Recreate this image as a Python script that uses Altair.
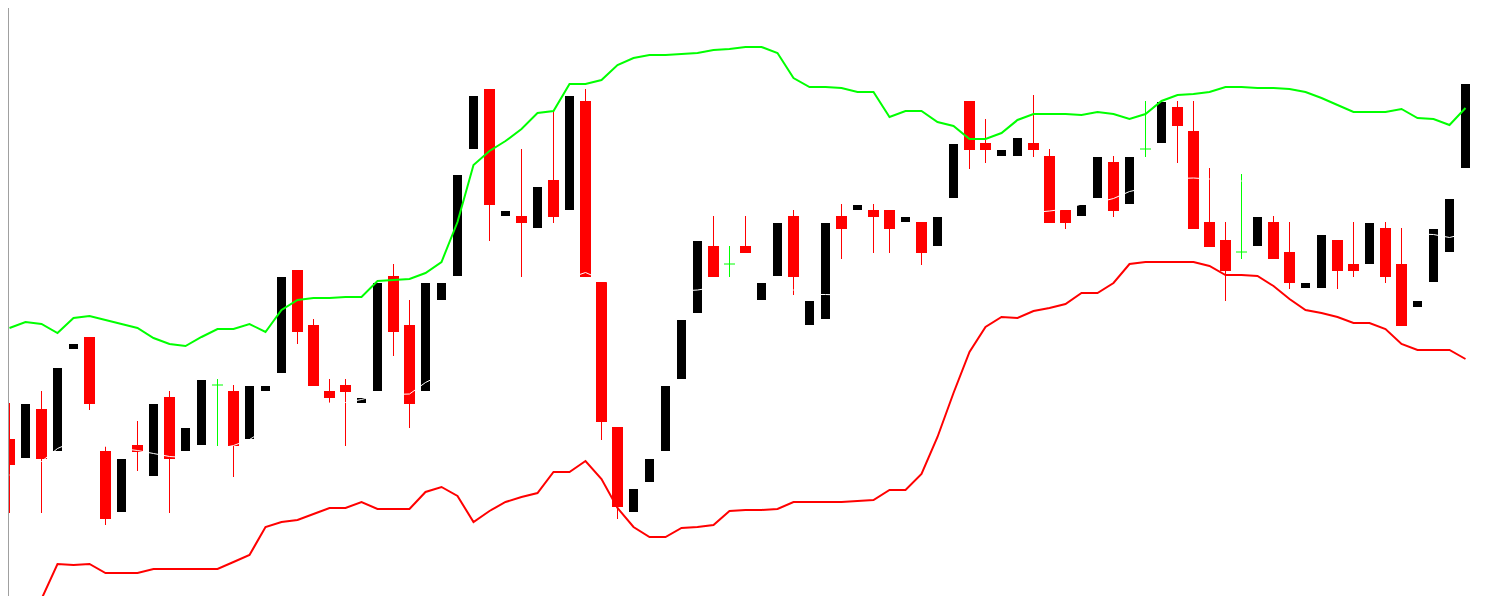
import altair as alt
import pandas as pd

# Candle values (price units; higher = up)
bar_open = [165, 146, 195, 153, 255, 267, 153, 92, 159, 128,
            207, 153, 159, 219, 213, 165, 213, 231, 334, 279,
            213, 219, 201, 213, 328, 279, 213, 304, 328, 455,
            515, 388, 388, 376, 424, 394, 503, 322, 177, 92,
            122, 153, 225, 291, 358, 340, 358, 304, 328, 388,
            279, 285, 388, 394, 394, 394, 382, 382, 358, 406,
            503, 461, 448, 448, 461, 448, 394, 388, 406, 442,
            400, 455, 461, 497, 473, 382, 364, 352, 358, 382,
            352, 316, 316, 364, 340, 340, 376, 340, 297, 322,
            352, 436]
bar_close = [139, 200, 145, 236, 260, 200, 85, 145, 152, 200,
             145, 176, 224, 219, 158, 218, 218, 327, 272, 218,
             206, 212, 206, 321, 272, 200, 321, 321, 429, 508,
             399, 393, 381, 417, 387, 508, 327, 182, 97, 115,
             145, 218, 284, 363, 327, 340, 351, 321, 381, 327,
             303, 381, 375, 399, 387, 375, 387, 351, 387, 460,
             454, 454, 454, 466, 454, 381, 381, 399, 447, 393,
             447, 455, 502, 478, 375, 357, 333, 352, 387, 345,
             321, 321, 369, 333, 333, 381, 327, 278, 303, 375,
             405, 520]
bar_high = [201, 200, 213, 236, 260, 267, 158, 145, 183, 200,
            213, 176, 224, 225, 219, 218, 218, 327, 334, 285,
            225, 225, 206, 321, 340, 304, 321, 321, 429, 508,
            515, 393, 455, 417, 493, 508, 515, 322, 177, 115,
            145, 218, 284, 363, 388, 358, 388, 321, 381, 394,
            303, 381, 400, 399, 400, 394, 387, 382, 387, 460,
            503, 485, 454, 466, 509, 455, 394, 399, 447, 448,
            447, 503, 502, 503, 503, 436, 382, 430, 387, 388,
            382, 321, 369, 364, 382, 381, 382, 376, 303, 375,
            405, 520]
bar_low = [91, 146, 91, 153, 255, 194, 79, 92, 133, 128,
           91, 153, 159, 158, 127, 165, 213, 231, 260, 218,
           201, 158, 201, 213, 248, 176, 213, 304, 328, 455,
           363, 388, 327, 376, 381, 394, 327, 164, 85, 92,
           122, 153, 225, 291, 327, 327, 351, 304, 328, 309,
           279, 285, 345, 394, 351, 351, 382, 339, 358, 406,
           435, 441, 448, 448, 447, 381, 375, 388, 406, 387,
           400, 447, 461, 441, 375, 357, 303, 345, 358, 345,
           315, 316, 316, 315, 327, 340, 321, 278, 297, 322,
           352, 436]

# Bollinger bands (upper / lower)
band_upper = [276, 282, 280, 271, 286, 288, 284, 280, 276, 266,
              260, 258, 267, 275, 275, 280, 272, 294, 304, 306,
              306, 307, 307, 323, 324, 325, 331, 342, 382, 439,
              453, 463, 475, 491, 493, 520, 520, 524, 539, 546,
              549, 549, 550, 551, 554, 555, 557, 557, 551, 526,
              517, 517, 516, 512, 512, 487, 493, 493, 482, 478,
              465, 465, 471, 484, 490, 490, 490, 489, 492, 490,
              485, 490, 503, 509, 510, 512, 517, 517, 516, 516,
              515, 512, 506, 499, 492, 492, 492, 495, 486, 485,
              479, 496]
band_lower = [-18, -8, 5, 40, 39, 40, 31, 31, 31, 35,
              35, 35, 35, 35, 42, 49, 77, 82, 84, 90,
              96, 96, 102, 95, 95, 95, 112, 117, 108, 82,
              93, 102, 107, 111, 132, 132, 143, 125, 96, 77,
              67, 67, 76, 77, 79, 93, 94, 94, 95, 102,
              102, 102, 102, 103, 104, 114, 114, 130, 167, 211,
              252, 277, 287, 286, 293, 296, 300, 311, 311, 321,
              340, 342, 342, 342, 342, 338, 329, 329, 328, 318,
              305, 294, 291, 287, 281, 281, 275, 260, 254, 254,
              254, 245]

n = len(bar_open)
kind = []
for o, c in zip(bar_open, bar_close):
    kind.append("doji" if o == c else ("up" if c > o else "down"))

df = pd.DataFrame({
    "bar": list(range(n)),
    "open": bar_open, "high": bar_high, "low": bar_low, "close": bar_close,
    "upper": band_upper, "lower": band_lower, "kind": kind,
})

xs = alt.Scale(domain=[-0.09375, 91.96875], nice=False, zero=False)
ys = alt.Scale(domain=[8, 596], nice=False, zero=False)

base = alt.Chart(df)

wicks = base.mark_rule(color="#ff0000", strokeWidth=1, clip=True).encode(
    x=alt.X("bar:Q", scale=xs, axis=None),
    y=alt.Y("low:Q", scale=ys, axis=None),
    y2="high:Q",
).transform_filter("datum.kind == 'down'")

red_bodies = base.mark_rect(color="#ff0000", clip=True).encode(
    x=alt.X("x0:Q", scale=xs, axis=None),
    x2="x1:Q",
    y=alt.Y("open:Q", scale=ys, axis=None),
    y2="close:Q",
).transform_filter("datum.kind == 'down'").transform_calculate(
    x0="datum.bar - 5.5/16", x1="datum.bar + 5.5/16"
)

black_bodies = base.mark_rect(color="#000000", clip=True).encode(
    x=alt.X("x0:Q", scale=xs, axis=None),
    x2="x1:Q",
    y=alt.Y("open:Q", scale=ys, axis=None),
    y2="close:Q",
).transform_filter("datum.kind == 'up'").transform_calculate(
    x0="datum.bar - 4.5/16", x1="datum.bar + 4.5/16"
)

doji_v = base.mark_rule(color="#00ff00", strokeWidth=1, clip=True).encode(
    x=alt.X("bar:Q", scale=xs, axis=None),
    y=alt.Y("low:Q", scale=ys, axis=None),
    y2="high:Q",
).transform_filter("datum.kind == 'doji'")

doji_h = base.mark_rule(color="#00ff00", strokeWidth=1, clip=True).encode(
    x=alt.X("x0:Q", scale=xs, axis=None),
    x2="x1:Q",
    y=alt.Y("open:Q", scale=ys, axis=None),
).transform_filter("datum.kind == 'doji'").transform_calculate(
    x0="datum.bar - 5.5/16", x1="datum.bar + 5.5/16"
)

middle = base.mark_line(color="#ffffff", strokeWidth=1, clip=True).encode(
    x=alt.X("bar:Q", scale=xs, axis=None),
    y=alt.Y("mid:Q", scale=ys, axis=None),
).transform_calculate(mid="(datum.upper + datum.lower) / 2")

upper = base.mark_line(color="#00ff00", strokeWidth=2, clip=True).encode(
    x=alt.X("bar:Q", scale=xs, axis=None),
    y=alt.Y("upper:Q", scale=ys, axis=None),
)

lower = base.mark_line(color="#ff0000", strokeWidth=2, clip=True).encode(
    x=alt.X("bar:Q", scale=xs, axis=None),
    y=alt.Y("lower:Q", scale=ys, axis=None),
)

border = base.mark_rule(color="#a0a0a0", strokeWidth=1).encode(
    x=alt.value(0.5), y=alt.value(0), y2=alt.value(588)
).transform_filter("datum.bar == 0")

chart = alt.layer(
    wicks, red_bodies, black_bodies, doji_v, doji_h, middle, upper, lower, border
).properties(
    width=1473, height=588, padding=0, background="#ffffff",
    autosize=alt.AutoSizeParams(type="none"),
).configure_view(stroke=None, strokeWidth=0)

chart.save("out.html", embed_options={"renderer": "svg", "actions": False})
